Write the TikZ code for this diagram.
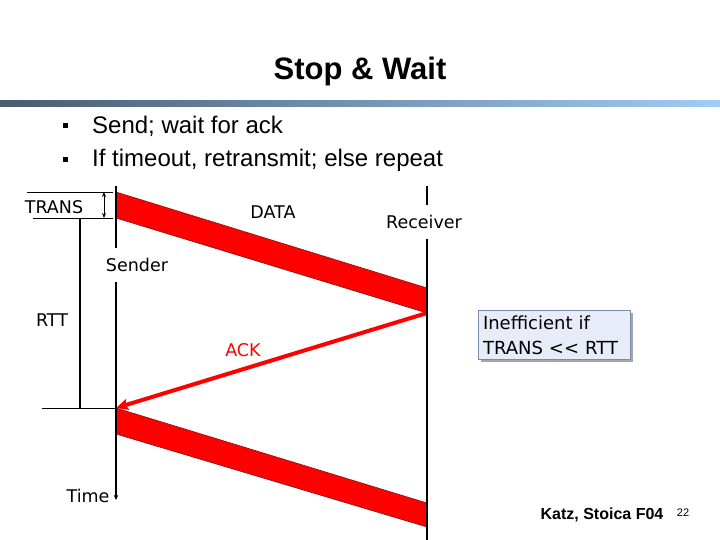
\documentclass[tikz,border=0pt]{standalone}
\usepackage{fontspec}
\setmainfont{Liberation Sans}
\newfontfamily\labelfont{DejaVu Sans}
\usepackage{xcolor}
\usepackage{tikz}
\usetikzlibrary{arrows.meta,shadows}
\definecolor{barleft}{HTML}{4A5C6E}
\definecolor{barright}{HTML}{A0CCF6}
\definecolor{boxfill}{HTML}{E8ECF8}
\definecolor{boxline}{HTML}{7A8AAA}
\definecolor{pktline}{HTML}{8A1010}

\begin{document}
\begin{tikzpicture}[x=1pt,y=-1pt,>=Stealth,
			lbl/.style={font=\labelfont\fontsize{17.5}{20}\selectfont,inner sep=1pt},
			bullet/.style={font=\fontsize{24}{28}\selectfont,anchor=base west,inner sep=0pt},
			packet/.style={fill=red,draw=pktline,line width=0.6pt},
			timeline/.style={line width=1.6pt},
			thin/.style={line width=0.9pt},
			infobox/.style={draw=boxline,fill=boxfill,line width=0.8pt,align=left,
				font=\labelfont\fontsize{18}{25}\selectfont,text width=142pt,
				inner xsep=5pt,inner ysep=5pt,
				drop shadow={shadow xshift=2.5pt,shadow yshift=-2.5pt,fill=black!35,opacity=1}},
			]
			\useasboundingbox (0,0) rectangle (720,540);
			
			% title and bar
			\node[font=\bfseries\fontsize{31}{36}\selectfont,anchor=base] (title) at (360,80) {Stop \& Wait};
			\shade[left color=barleft,right color=barright] (0,101) rectangle (720,107);
			
			% bullets
			\fill (63,123) rectangle (68,128);
			\fill (63,157) rectangle (68,162);
			\node[bullet] (b1) at (92,134) {Send; wait for ack};
			\node[bullet] (b2) at (92,167) {If timeout, retransmit; else repeat};
			
			% end points on the two time lines
			\def\xs{116} \def\xr{427}
			\coordinate (S0) at (\xs,186);
			\coordinate (S1) at (\xs,192);
			\coordinate (S2) at (\xs,218);
			\coordinate (S3) at (\xs,408);
			\coordinate (S4) at (\xs,434);
			\coordinate (S5) at (\xs,500);
			\coordinate (R0) at (\xr,186);
			\coordinate (R1) at (\xr,288);
			\coordinate (R2) at (\xr,313);
			\coordinate (R3) at (\xr,503);
			\coordinate (R4) at (\xr,527);
			\coordinate (R5) at (\xr,540);
			
			% data packets
			\draw[packet] (S1)--(R1)--(R2)--(S2)--cycle;
			\draw[packet] (S3)--(R3)--(R4)--(S4)--cycle;
			
			% ack back to the sender
			\draw[red,line width=4pt,-{Stealth[length=12pt,width=11pt,inset=2pt]}] (R2)--(S3);
			
			% time lines
			\draw[timeline,-{Stealth[length=5pt,width=4.5pt]}] (S0)--(S5);
			\draw[line width=1.2pt] (R0)--(R5);
			
			% TRANS marks
			\coordinate (T1) at (27,192);
			\coordinate (T2) at (33,218);
			\draw[thin] (T1)--(113,192);
			\draw[thin] (T2)--(113,218);
			\draw[thin,{Stealth[length=5pt,width=4pt]}-{Stealth[length=5pt,width=4pt]}] (104,192)--(104,218);
			
			% RTT marks
			\coordinate (Q1) at (80,218);
			\coordinate (Q2) at (80,408);
			\draw[timeline] (Q1)--(Q2);
			\draw[thin] (42,408)--(S3);
			
			% labels
			\node[lbl] (trans) at (54,207) {TRANS};
			\node[lbl] (data) at (273,212) {DATA};
			\node[lbl,fill=white,inner ysep=10pt] (sender) at (137,265) {Sender};
			\node[lbl,fill=white,inner ysep=10pt] (receiver) at (424,222) {Receiver};
			\node[lbl] (rtt) at (52,320) {RTT};
			\node[lbl,text=red] (ack) at (243,350) {ACK};
			\node[lbl] (time) at (88,496) {Time};
			
			\node[infobox] (note) at (554,335) {Inefficient if\\TRANS << RTT};
			
			% footer
			\node[font=\bfseries\fontsize{16}{18}\selectfont] (src) at (602,515) {Katz, Stoica F04};
			\node[font=\fontsize{11}{13}\selectfont] (page) at (683,513) {22};
		\end{tikzpicture}
\end{document}
